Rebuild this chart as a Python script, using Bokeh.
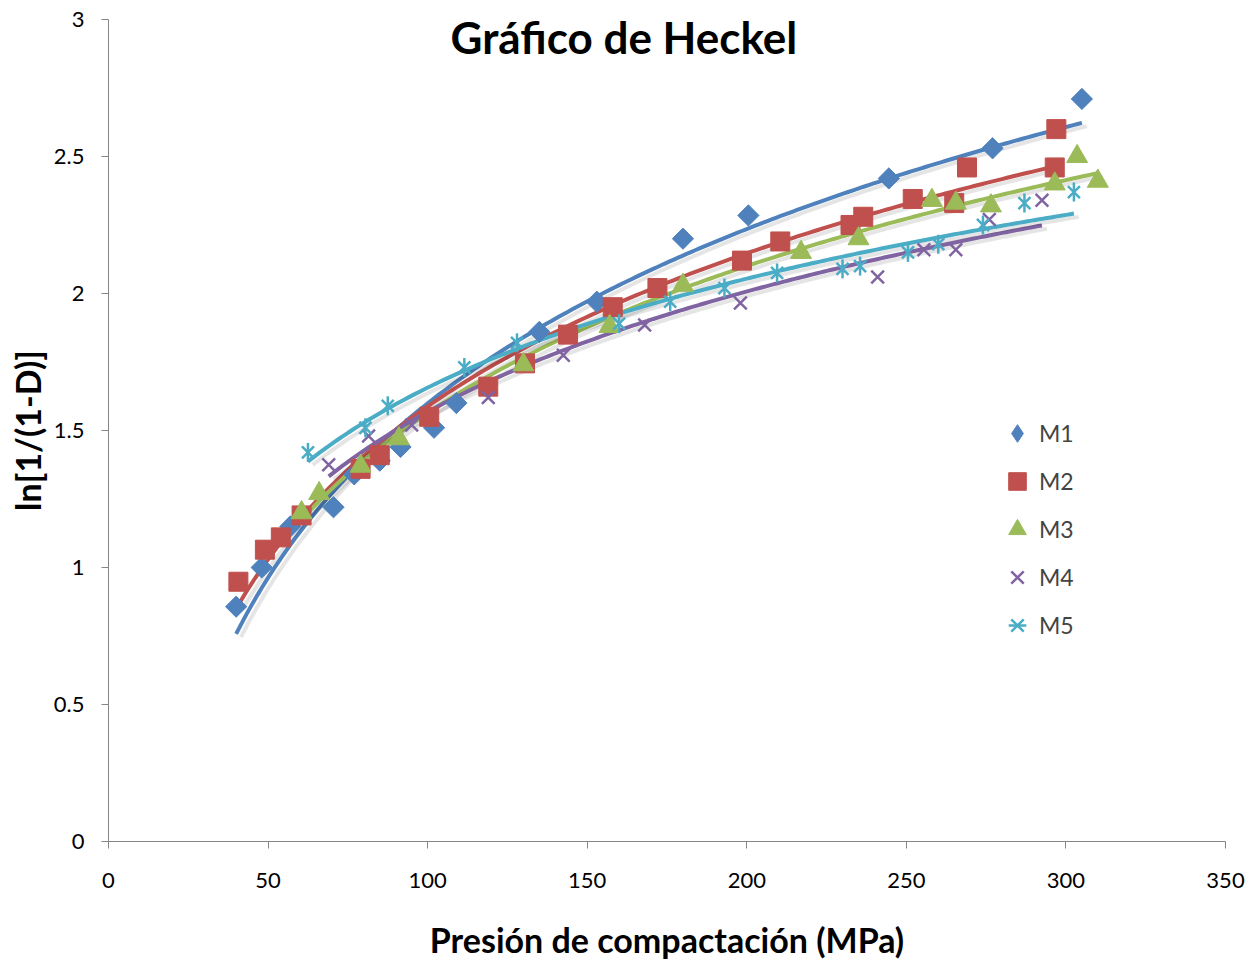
import numpy as np
from bokeh.plotting import figure
from bokeh.models import Label, Legend, LegendItem, Range1d, FixedTicker
from bokeh.embed import file_html
from bokeh.resources import INLINE

title_text = "Gráfico de Heckel"
x_title = "Presión de compactación (MPa)"
y_title = "ln[1/(1-D)]"
series_names = ["M1", "M2", "M3", "M4", "M5"]

m1_x = [40, 48, 57, 70.5, 77, 85, 91.5, 102, 109, 135, 153, 180, 200.5, 244.5, 277, 305]
m1_y = [0.857, 1.00, 1.15, 1.22, 1.34, 1.39, 1.44, 1.51, 1.60, 1.86, 1.97, 2.20, 2.285, 2.42, 2.53, 2.71]

m2_x = [40.7, 49, 54, 60.5, 79, 85, 100.5, 119, 130.5, 144, 158, 172, 198.5, 210.5, 232.5, 236.5, 252, 265, 269, 296.5, 297]
m2_y = [0.948, 1.065, 1.11, 1.19, 1.36, 1.41, 1.55, 1.66, 1.745, 1.85, 1.95, 2.02, 2.12, 2.19, 2.25, 2.28, 2.345, 2.33, 2.46, 2.46, 2.60]

m3_x = [60.5, 66, 79, 91, 130, 157, 180, 217, 235, 258, 265.5, 276.5, 296.5, 303.5, 310]
m3_y = [1.20, 1.27, 1.37, 1.47, 1.74, 1.88, 2.03, 2.15, 2.20, 2.34, 2.33, 2.32, 2.40, 2.50, 2.41]

m4_x = [69, 81.5, 95, 119, 142.5, 168, 198, 241, 255.5, 265.5, 276, 292.5]
m4_y = [1.375, 1.48, 1.52, 1.62, 1.775, 1.885, 1.965, 2.06, 2.16, 2.16, 2.27, 2.34]

m5_x = [62.5, 80.5, 87.5, 111.5, 128, 160, 176, 193, 209.5, 230, 235.5, 250.5, 260, 274, 287, 302.5]
m5_y = [1.42, 1.51, 1.59, 1.73, 1.82, 1.89, 1.97, 2.02, 2.075, 2.09, 2.10, 2.15, 2.18, 2.25, 2.33, 2.37]

x_ticks = [0, 50, 100, 150, 200, 250, 300, 350]
y_ticks = [0, 0.5, 1, 1.5, 2, 2.5, 3]

colors = ["#4F81BD", "#C0504D", "#9BBB59", "#8064A2", "#4BACC6"]
FONT = "Lato"

p = figure(width=1257, height=962, output_backend="svg", toolbar_location=None,
           x_range=Range1d(0, 350), y_range=Range1d(0, 3),
           min_border_left=108, min_border_right=32, min_border_top=19, min_border_bottom=120)
p.xgrid.visible = False
p.ygrid.visible = False
p.outline_line_color = None
p.background_fill_color = "white"
p.border_fill_color = "white"

for ax, ticks in ((p.xaxis[0], x_ticks), (p.yaxis[0], y_ticks)):
    ax.ticker = FixedTicker(ticks=ticks)
    ax.axis_line_color = "#868686"
    ax.major_tick_line_color = "#868686"
    ax.minor_tick_line_color = None
    ax.major_tick_in = 0
    ax.major_tick_out = 7
    ax.major_label_text_font = FONT
    ax.major_label_text_font_size = "22px"
    ax.major_label_text_color = "black"
    ax.axis_label_text_font = FONT
    ax.axis_label_text_font_style = "bold"
    ax.axis_label_text_font_size = "34px"
    ax.axis_label_text_color = "black"

p.xaxis[0].major_label_standoff = 24
p.xaxis[0].axis_label = x_title
p.xaxis[0].axis_label_standoff = 28
p.yaxis[0].major_label_standoff = 17
p.yaxis[0].axis_label = y_title
p.yaxis[0].axis_label_standoff = 3

data = [(m1_x, m1_y), (m2_x, m2_y), (m3_x, m3_y), (m4_x, m4_y), (m5_x, m5_y)]

# logarithmic trendlines fitted to each series
for (xs, ys), c in zip(data, colors):
    xs = np.array(xs, dtype=float)
    ys = np.array(ys, dtype=float)
    a, b = np.polyfit(np.log(xs), ys, 1)
    xx = np.linspace(xs.min(), xs.max(), 200)
    p.line(xx + 1.5, a * np.log(xx) + b - 0.012, line_color="#000000", line_alpha=0.10, line_width=4)
    p.line(xx, a * np.log(xx) + b, line_color=c, line_width=4)

items = []
# diamond used for the legend entry (legend markers are never rotated); hidden under the rotated squares
r1_leg = p.scatter(m1_x, m1_y, marker="diamond", size=15, fill_color=colors[0], line_color=colors[0])
r1 = p.scatter(m1_x, m1_y, marker="square", angle=np.pi / 4, size=15, fill_color=colors[0], line_color=colors[0])
items.append(LegendItem(label=series_names[0], renderers=[r1_leg]))
r2 = p.scatter(m2_x, m2_y, marker="square", size=19, fill_color=colors[1], line_color=colors[1])
items.append(LegendItem(label=series_names[1], renderers=[r2]))
r3 = p.scatter(m3_x, m3_y, marker="triangle", size=21, fill_color=colors[2], line_color=colors[2])
items.append(LegendItem(label=series_names[2], renderers=[r3]))
r4 = p.scatter(m4_x, m4_y, marker="x", size=18, line_color=colors[3], line_width=2.5)
items.append(LegendItem(label=series_names[3], renderers=[r4]))
r5a = p.scatter(m5_x, m5_y, marker="x", size=17, line_color=colors[4], line_width=2.5)
r5b = p.scatter(m5_x, m5_y, marker="dash", angle=np.pi / 2, size=19, line_color=colors[4], line_width=2.5)
items.append(LegendItem(label=series_names[4], renderers=[r5a, r5b]))

legend = Legend(items=items, location=(887, 194), border_line_color=None,
                background_fill_alpha=0, label_text_font=FONT, label_text_font_size="23px",
                glyph_width=44, glyph_height=44, label_height=44, spacing=4, padding=0,
                label_standoff=-7, margin=0)
p.add_layout(legend)

p.add_layout(Label(x=161.5, y=2.935, text=title_text, text_align="center", text_baseline="middle",
                   text_font=FONT, text_font_style="bold", text_font_size="44px", text_color="black"))

open("out.html", "w").write(file_html(p, INLINE))
